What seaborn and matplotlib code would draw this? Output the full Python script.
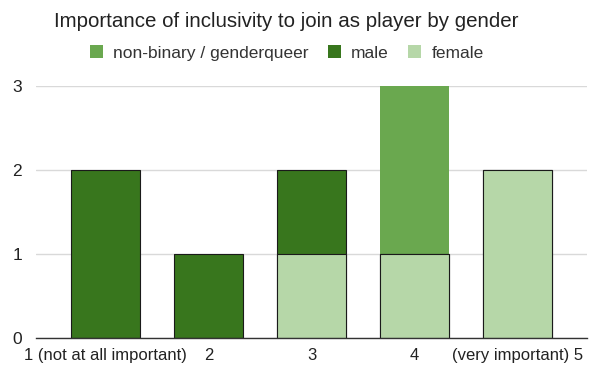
import matplotlib
matplotlib.use("Agg")
import matplotlib.pyplot as plt
import matplotlib.patches as mpatches
import seaborn as sns
import pandas as pd
import numpy as np

categories = ["1 (not at all important)", "2", "3", "4", "(very important) 5"]
female = [0, 0, 1, 1, 2]
male = [2, 1, 1, 0, 0]
nonbinary = [0, 0, 0, 2, 0]
series_names = ["non-binary / genderqueer", "male", "female"]
colors = {"non-binary / genderqueer": "#6aa84f", "male": "#38761d", "female": "#b6d7a8"}
yticks = [0, 1, 2, 3]

sns.set_theme(style="white")
plt.rcParams["font.family"] = ["Liberation Sans", "DejaVu Sans"]

df = pd.DataFrame({
    "category": categories,
    "female": female,
    "male": male,
    "nonbinary": nonbinary,
})
df["cum_male"] = df["female"] + df["male"]
df["cum_all"] = df["cum_male"] + df["nonbinary"]

fig = plt.figure(figsize=(5.97, 3.69), dpi=100)
ax = fig.add_axes([0.0603, 0.084, 0.923, 0.683])

w = 0.67
sns.barplot(data=df, x="category", y="cum_all", color=colors["non-binary / genderqueer"],
            saturation=1, width=w, errorbar=None, ax=ax, linewidth=0, zorder=2)
sns.barplot(data=df, x="category", y="cum_male", color=colors["male"],
            saturation=1, width=w, errorbar=None, ax=ax, linewidth=0.8,
            edgecolor="#1a1a1a", zorder=3)
sns.barplot(data=df, x="category", y="female", color=colors["female"],
            saturation=1, width=w, errorbar=None, ax=ax, linewidth=0.8,
            edgecolor="#1a1a1a", zorder=4)

ax.set_xlim(-0.68, 4.68)
ax.set_ylim(0, 3.0)
ax.set_yticks(yticks)
ax.set_yticklabels([str(v) for v in yticks])
ax.yaxis.grid(True, color="#d9d9d9", linewidth=1.0, zorder=0)
ax.set_axisbelow(True)
for s in ["top", "right", "left"]:
    ax.spines[s].set_visible(False)
ax.spines["bottom"].set_color("#333333")
ax.spines["bottom"].set_linewidth(1.0)
ax.spines["bottom"].set_zorder(5)
ax.set_xlabel("")
ax.set_ylabel("")
ax.tick_params(axis="both", length=0, labelsize=12, colors="#222222")
ax.tick_params(axis="y", pad=10, labelsize=12.5)
ax.tick_params(axis="x", pad=7)
ax.set_xticks(range(len(categories)))
ax.set_xticklabels(categories)

fig.text(0.48, 0.943, "Importance of inclusivity to join as player by gender",
         ha="center", va="center", fontsize=14.8, color="#222222")

handles = [mpatches.Patch(facecolor=colors[n], edgecolor="none", label=n) for n in series_names]
leg = fig.legend(handles=handles, loc="center", bbox_to_anchor=(0.48, 0.856), ncol=3,
                 frameon=False, fontsize=12.5, handlelength=0.75, handleheight=0.75,
                 handletextpad=0.6, columnspacing=1.1)
for t in leg.get_texts():
    t.set_color("#333333")

fig.savefig("out.png", dpi=100)
